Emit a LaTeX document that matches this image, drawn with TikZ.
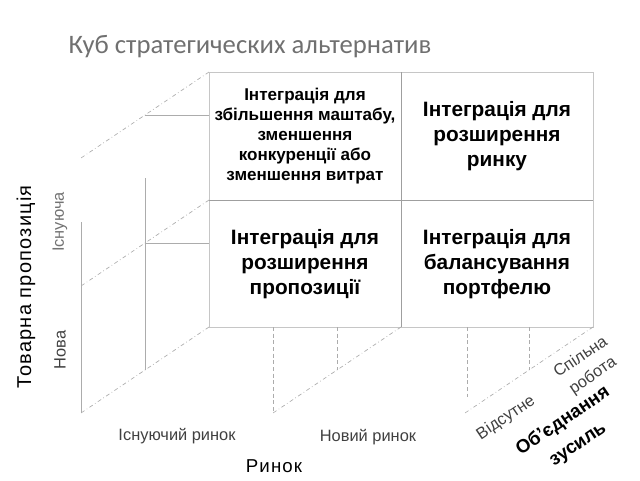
\documentclass[tikz,border=0pt]{standalone}
\usepackage{fontspec}
\setmainfont{Liberation Sans}
\newfontfamily\titlefont{Carlito}
\newfontfamily\widefont[LetterSpace=6]{Liberation Sans}
\usetikzlibrary{calc}
\definecolor{titlegray}{HTML}{707070}

\begin{document}
\begin{tikzpicture}[x=0.75pt,y=-0.75pt]
\def\DX{-128};\def\DY{86};
\useasboundingbox (0,0) rectangle (640,480);
\tikzset{
  edge/.style={gray!65, line width=0.5pt},
  depth/.style={gray!65, line width=0.5pt, dash dot},
  hidden/.style={gray!65, line width=0.5pt, densely dashed},
  cell/.style={align=center, text=black},
  big/.style={font=\fontsize{15.6}{19}\selectfont\bfseries},
  small/.style={font=\fontsize{12.8}{15}\selectfont\bfseries},
  axis/.style={font=\widefont\fontsize{15}{17}\selectfont},
  tick/.style={font=\fontsize{12.3}{13.5}\selectfont, text=black!75, inner sep=1pt},
  slant/.style={rotate=34, inner sep=1pt},
}
% title
\node (title) at (250,47) {\titlefont\fontsize{20}{24}\selectfont\color{titlegray}Куб стратегических альтернатив};
% face of the cube
\coordinate (tl) at (209,72); \coordinate (tm) at (401,72); \coordinate (tr) at (593,72);
\coordinate (ml) at (209,200); \coordinate (mm) at (401,200); \coordinate (mr) at (593,200);
\coordinate (bl) at (209,327); \coordinate (bm) at (401,327); \coordinate (br) at (593,327);
\draw[gray!45, line width=0.6pt] (tl) rectangle (br);
\draw[gray!75, line width=0.6pt] (tm)--(bm) (ml)--(mr);
% left face
\draw[depth] (tl)--++(\DX,\DY);
\draw[depth] (ml)--++(\DX,\DY);
\draw[depth] (bl)--++(\DX,\DY);
\draw[edge] ($(tl)+(\DX/2,\DY/2)$)--($(tl)+(0,\DY/2)$);
\draw[edge] ($(ml)+(\DX/2,\DY/2)$)--($(ml)+(0,\DY/2)$);
\draw[edge] ($(bl)+(\DX,\DY)$)--(81,222);
\draw[edge] ($(bl)+(\DX/2,\DY/2)$)--(145,178);
% bottom face
\draw[depth] (bm)--++(\DX,\DY);
\draw[depth] (br)--++(\DX,\DY);
\draw[hidden] (bm)++(\DX,0)--++(0,\DY);
\draw[hidden] (bm)++(\DX/2,0)--++(0,\DY/2);
\draw[hidden] (br)++(\DX+2,0)--++(0,70);
\draw[hidden] (br)++(\DX/2,0)--++(0,\DY/2);
% cells
\node[cell, small] (c11) at (305,136) {Інтеграція для\\збільшення маштабу,\\зменшення\\конкуренції або\\зменшення витрат};
\node[cell, big] (c12) at (497,136) {Інтеграція для\\розширення\\ринку};
\node[cell, big] (c21) at (305,264) {Інтеграція для\\розширення\\пропозиції};
\node[cell, big] (c22) at (497,264) {Інтеграція для\\балансування\\портфелю};
% axes labels
\node[axis, rotate=90] (prop) at (26,287) {Товарна пропозиція};
\node[tick, rotate=90, text=black!55] (exist) at (60,222) {Існуюча};
\node[tick, rotate=90] (new) at (60,350) {Нова};
\node[tick] (emkt) at (177,436) {Існуючий ринок};
\node[tick] (nmkt) at (368,437) {Новий ринок};
\node[axis, font=\widefont\fontsize{14}{16}\selectfont] (mkt) at (274,466) {Ринок};
\node[tick, slant] (none) at (506,418) {Відсутне};
\node[tick, slant] (joint1) at (580,356) {Спільна};
\node[tick, slant] (joint2) at (593,376) {робота};
\node[slant, font=\fontsize{14}{17}\selectfont\bfseries] (effort1) at (563,421) {Об’єднання};
\node[slant, font=\fontsize{14}{17}\selectfont\bfseries] (effort2) at (579,446) {зусиль};
\end{tikzpicture}
\end{document}
